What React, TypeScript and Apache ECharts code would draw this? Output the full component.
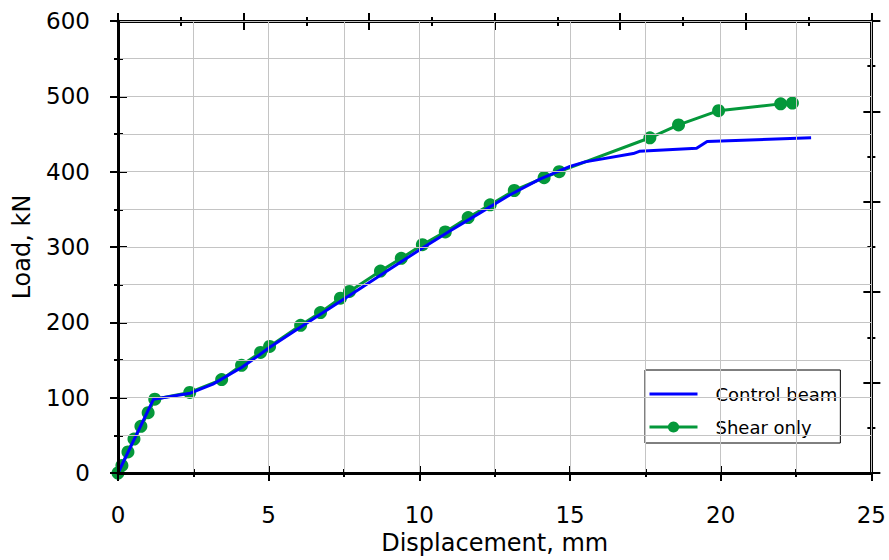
import React, { useEffect, useRef } from "react";
import * as echarts from "echarts";

const seriesNames = ["Control beam", "Shear only"];

const controlDisp = [0, 1.18, 2.4, 3.15, 4.1, 4.7, 5.0, 6.0, 7.0, 8.0, 9.0, 10.0, 11.0, 12.0, 13.0, 14.0, 15.0, 15.5, 17.1, 17.3, 19.2, 19.55, 23.0];
const controlLoad = [0, 98, 106, 118, 140, 157, 166, 192, 218, 244, 270, 296, 321, 345, 369, 390, 407, 413, 424, 427, 431, 440, 445];

const shearDisp = [0, 0.13, 0.33, 0.53, 0.76, 1.0, 1.22, 2.38, 3.44, 4.1, 4.73, 5.03, 6.06, 6.72, 7.38, 7.68, 8.71, 9.4, 10.1, 10.86, 11.62, 12.35, 13.15, 14.14, 14.64, 17.65, 18.6, 19.93, 21.99, 22.38];
const shearLoad = [0, 10, 28, 45, 62, 80, 98, 107, 124, 143, 160, 168, 196, 213, 232, 241, 268, 285, 303, 320, 339, 356, 375, 392, 400, 445, 462, 481, 490, 491];

// axis ranges: [min, max, interval]
const xRange = [0, 25, 5];
const yRange = [0, 600, 100];
const topRange = [0, 6, 1];
const rightRange = [0, 10, 2];

const FONT = "DejaVu Sans, Verdana, sans-serif";
const GRID = "#c4c4c4";

function tickAxis(position: string, range: number[], inside: boolean, showLine: boolean, major: number, minor: number, extra: any = {}) {
  return {
    type: "value",
    position,
    min: range[0],
    max: range[1],
    interval: range[2],
    axisLine: { show: showLine, onZero: false, lineStyle: { color: "#000", width: 3 } },
    axisTick: { show: true, inside, length: major, lineStyle: { color: "#000", width: 2 } },
    minorTick: { show: true, splitNumber: 2, length: minor, lineStyle: { color: "#000", width: 2 } },
    axisLabel: { show: false },
    splitLine: { show: false },
    minorSplitLine: { show: false },
    ...extra,
  };
}

export default function App() {
  const ref = useRef<HTMLDivElement>(null);
  useEffect(() => {
    if (!ref.current) return;
    const chart = echarts.init(ref.current, undefined, { renderer: "svg" });
    const labelStyle = { fontSize: 23, color: "#000", fontFamily: FONT };
    chart.setOption({
      animation: false,
      backgroundColor: "#fff",
      grid: { left: 118, right: 16, top: 21, bottom: 86, containLabel: false },
      legend: {
        data: [
          { name: seriesNames[0], itemStyle: { opacity: 0 } },
          { name: seriesNames[1] },
        ],
        orient: "vertical",
        left: 645,
        top: 370,
        backgroundColor: "#fff",
        borderColor: "#000",
        borderWidth: 1,
        borderRadius: 0,
        padding: [14, 3, 6, 3],
        itemGap: 13,
        itemWidth: 48,
        itemHeight: 14,
        lineStyle: { width: 3 },
        textStyle: { fontSize: 18, color: "#000", fontFamily: FONT, lineHeight: 20, padding: [0, 0, 0, 13] },
      },
      xAxis: [
        tickAxis("bottom", xRange, false, true, 8, 4, {
          axisLabel: { ...labelStyle, margin: 30 },
          splitLine: { show: true, lineStyle: { color: GRID, width: 1 } },
          minorSplitLine: { show: true, lineStyle: { color: GRID, width: 1 } },
          name: "Displacement, mm",
          nameLocation: "middle",
          nameGap: 58,
          nameTextStyle: { fontSize: 24, color: "#000", fontFamily: FONT },
          z: 5,
        }),
        tickAxis("bottom", xRange, true, false, 7, 4),
        tickAxis("top", topRange, false, true, 8, 4),
        tickAxis("top", topRange, true, false, 9, 5),
      ],
      yAxis: [
        tickAxis("left", yRange, false, true, 8, 4, {
          axisLabel: { ...labelStyle, margin: 28 },
          splitLine: { show: true, lineStyle: { color: GRID, width: 1 } },
          minorSplitLine: { show: true, lineStyle: { color: GRID, width: 1 } },
          name: "Load, kN",
          nameLocation: "middle",
          nameGap: 84,
          nameTextStyle: { fontSize: 24, color: "#000", fontFamily: FONT },
          z: 5,
        }),
        tickAxis("left", yRange, true, false, 9, 5),
        tickAxis("right", rightRange, false, true, 9, 4),
        tickAxis("right", rightRange, true, false, 8, 4),
      ],
      series: [
        {
          name: seriesNames[1],
          type: "line",
          xAxisIndex: 0,
          yAxisIndex: 0,
          data: shearDisp.map((d, i) => [d, shearLoad[i]]),
          symbol: "circle",
          symbolSize: 13,
          showSymbol: true,
          lineStyle: { color: "#04983a", width: 3 },
          itemStyle: { color: "#04983a" },
          z: 2,
        },
        {
          name: seriesNames[0],
          type: "line",
          xAxisIndex: 0,
          yAxisIndex: 0,
          data: controlDisp.map((d, i) => [d, controlLoad[i]]),
          symbol: "none",
          lineStyle: { color: "#0000ff", width: 3 },
          itemStyle: { color: "#0000ff" },
          z: 3,
        },
      ],
    });
    return () => chart.dispose();
  }, []);
  return <div ref={ref} style={{ width: 889, height: 560, position: "absolute", left: 0, top: 0 }} />;
}
